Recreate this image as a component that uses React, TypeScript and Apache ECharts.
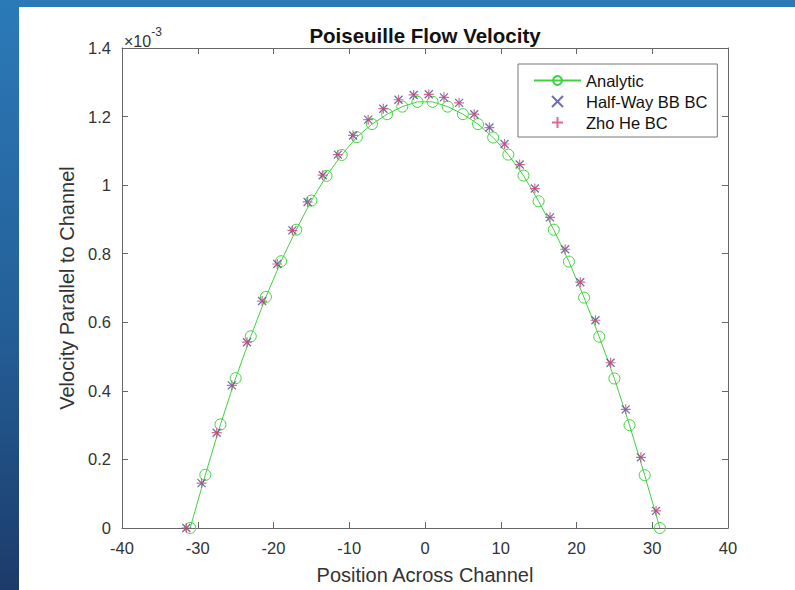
import React, { useEffect, useRef } from "react";
import * as echarts from "echarts";

// Positions across the channel (lattice units)
const analyticX = [
  -31, -29, -27, -25, -23, -21, -19, -17, -15, -13, -11, -9, -7, -5, -3, -1,
  1, 3, 5, 7, 9, 11, 13, 15, 17, 19, 21, 23, 25, 27, 29, 31,
];
// Velocities in units of 1e-3
const analyticV = [
  0, 0.155, 0.302, 0.437, 0.559, 0.674, 0.778, 0.87, 0.955, 1.027, 1.088, 1.14,
  1.178, 1.207, 1.229, 1.243, 1.243, 1.229, 1.207, 1.178, 1.139, 1.089, 1.028,
  0.953, 0.87, 0.777, 0.672, 0.558, 0.436, 0.3, 0.154, 0,
];

const latticeX = [
  -31.5, -29.5, -27.5, -25.5, -23.5, -21.5, -19.5, -17.5, -15.5, -13.5, -11.5,
  -9.5, -7.5, -5.5, -3.5, -1.5, 0.5, 2.5, 4.5, 6.5, 8.5, 10.5, 12.5, 14.5, 16.5,
  18.5, 20.5, 22.5, 24.5, 26.5, 28.5, 30.5,
];
const halfWayV = [
  0, 0.131, 0.278, 0.416, 0.542, 0.662, 0.77, 0.868, 0.951, 1.029, 1.089, 1.145,
  1.191, 1.223, 1.249, 1.263, 1.265, 1.256, 1.24, 1.207, 1.168, 1.12, 1.06, 0.99,
  0.906, 0.813, 0.717, 0.606, 0.482, 0.346, 0.206, 0.05,
];
const zhoHeV = [
  0, 0.131, 0.278, 0.416, 0.542, 0.662, 0.77, 0.868, 0.951, 1.029, 1.089, 1.145,
  1.191, 1.223, 1.249, 1.263, 1.265, 1.256, 1.24, 1.207, 1.168, 1.12, 1.06, 0.99,
  0.906, 0.813, 0.717, 0.606, 0.482, 0.346, 0.206, 0.05,
];

const seriesNames = ["Analytic", "Half-Way BB BC", "Zho He BC"];

const FONT = "'Liberation Sans', Arial, Helvetica, sans-serif";
const AXIS_COLOR = "#666";
const TEXT_COLOR = "#333";

export default function App() {
  const ref = useRef<HTMLDivElement>(null);

  useEffect(() => {
    if (!ref.current) return;
    const chart = echarts.init(ref.current, undefined, { renderer: "svg" });

    const pair = (xs: number[], ys: number[]) => xs.map((x, i) => [x, ys[i]]);

    const boxAxis = {
      axisLine: { show: true, onZero: false, lineStyle: { color: AXIS_COLOR, width: 1 } },
      axisTick: { show: true, inside: true, length: 6, lineStyle: { color: AXIS_COLOR } },
      splitLine: { show: false },
    };

    chart.setOption({
      animation: false,
      textStyle: { fontFamily: FONT },
      title: {
        text: "Poiseuille Flow Velocity",
        left: 420,
        top: 20,
        textAlign: "center",
        textStyle: { fontSize: 20.5, fontWeight: "bold", color: "#111", fontFamily: FONT },
      },
      graphic: [
        {
          type: "text",
          left: 124,
          top: 26,
          style: {
            text: "{a|×10}{b|-3}",
            rich: {
              a: { fontSize: 16, fontFamily: FONT, fill: TEXT_COLOR, verticalAlign: "bottom", padding: [7, 0, 0, 0] },
              b: { fontSize: 12, fontFamily: FONT, fill: TEXT_COLOR, verticalAlign: "top" },
            },
          },
        },
      ],
      legend: {
        data: seriesNames,
        orient: "vertical",
        left: 518,
        top: 64,
        padding: [8, 10, 6, 15],
        itemGap: 4,
        itemWidth: 47,
        itemHeight: 11,
        backgroundColor: "#fff",
        borderColor: "#777",
        borderWidth: 1,
        borderRadius: 0,
        textStyle: { fontSize: 16.5, color: "#111", fontFamily: FONT },
      },
      grid: { left: 122, right: 795 - 728, top: 48, bottom: 590 - 529, containLabel: false },
      xAxis: [
        {
          type: "value",
          min: -40,
          max: 40,
          interval: 10,
          position: "bottom",
          name: "Position Across Channel",
          nameLocation: "middle",
          nameGap: 37,
          nameTextStyle: { fontSize: 20, color: TEXT_COLOR, fontFamily: FONT },
          axisLabel: { fontSize: 16.5, color: TEXT_COLOR, margin: 11, fontFamily: FONT },
          ...boxAxis,
        },
        {
          type: "value",
          min: -40,
          max: 40,
          interval: 10,
          position: "top",
          axisLabel: { show: false },
          ...boxAxis,
        },
      ],
      yAxis: [
        {
          type: "value",
          min: 0,
          max: 1.4,
          interval: 0.2,
          position: "left",
          name: "Velocity Parallel to Channel",
          nameLocation: "middle",
          nameGap: 42,
          nameTextStyle: { fontSize: 20, color: TEXT_COLOR, fontFamily: FONT },
          axisLabel: {
            fontSize: 16.5,
            color: TEXT_COLOR,
            margin: 11,
            fontFamily: FONT,
            formatter: (v: number) => String(Number(v.toFixed(1))),
          },
          ...boxAxis,
        },
        {
          type: "value",
          min: 0,
          max: 1.4,
          interval: 0.2,
          position: "right",
          axisLabel: { show: false },
          ...boxAxis,
        },
      ],
      series: [
        {
          name: seriesNames[0],
          type: "line",
          data: pair(analyticX, analyticV),
          symbol: "circle",
          symbolSize: 11,
          showAllSymbol: true,
          lineStyle: { color: "#3fd33f", width: 1 },
          itemStyle: { color: "rgba(255,255,255,0)", borderColor: "#3fd33f", borderWidth: 1 },
          z: 2,
        },
        {
          name: seriesNames[1],
          type: "scatter",
          data: pair(latticeX, halfWayV),
          symbol: "path://M0,0L10,10M10,0L0,10",
          symbolSize: 8,
          symbolKeepAspect: true,
          itemStyle: { color: "rgba(0,0,0,0)", borderColor: "#4a4a9e", borderWidth: 1.3 },
          z: 3,
        },
        {
          name: seriesNames[2],
          type: "scatter",
          data: pair(latticeX, zhoHeV),
          symbol: "path://M5,0L5,10M0,5L10,5",
          symbolSize: 10,
          symbolKeepAspect: true,
          itemStyle: { color: "rgba(0,0,0,0)", borderColor: "#d6456e", borderWidth: 1.2 },
          z: 4,
        },
      ],
    });

    return () => chart.dispose();
  }, []);

  return (
    <div
      style={{
        position: "fixed",
        left: 0,
        top: 0,
        width: 795,
        height: 590,
        background: "linear-gradient(180deg, #2b7ab8 0%, #245f98 55%, #1c3b6a 100%)",
      }}
    >
      <div style={{ position: "absolute", left: 19, top: 7, right: 0, bottom: 0, background: "#fff" }} />
      <div ref={ref} style={{ position: "absolute", left: 0, top: 0, width: 795, height: 590 }} />
    </div>
  );
}
